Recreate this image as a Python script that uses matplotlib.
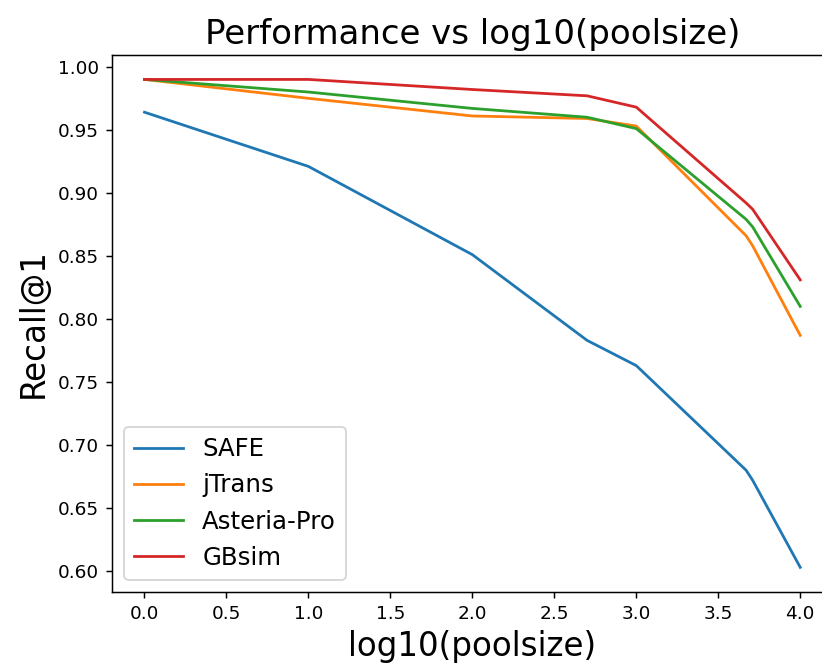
import matplotlib
matplotlib.use('Agg')
import matplotlib.pyplot as plt

# log10(poolsize) positions
x = [0, 1, 2, 2.7, 3, 3.67, 3.71, 4]

safe = [0.964, 0.921, 0.851, 0.783, 0.763, 0.680, 0.672, 0.603]
jtrans = [0.990, 0.975, 0.961, 0.959, 0.953, 0.866, 0.858, 0.787]
asteria = [0.990, 0.980, 0.967, 0.960, 0.951, 0.879, 0.873, 0.810]
gbsim = [0.990, 0.990, 0.982, 0.977, 0.968, 0.892, 0.887, 0.831]

labels = ['SAFE', 'jTrans', 'Asteria-Pro', 'GBsim']

dpi = 133.3
fig = plt.figure(figsize=(822 / dpi, 663 / dpi), dpi=dpi)
# axes runs past the right edge like the cropped original
ax = fig.add_axes([0.1359, 0.1075, 0.8775, 0.8095])

for ys, lab in zip([safe, jtrans, asteria, gbsim], labels):
    ax.plot(x, ys, label=lab)

ax.set_title('Performance vs log10(poolsize)', fontsize=18.4)
ax.set_xlabel('log10(poolsize)', fontsize=17.6)
ax.set_ylabel('Recall@1', fontsize=17.6)
ax.legend(loc='lower left', fontsize=13.2)

fig.savefig('out.png', dpi=dpi)
